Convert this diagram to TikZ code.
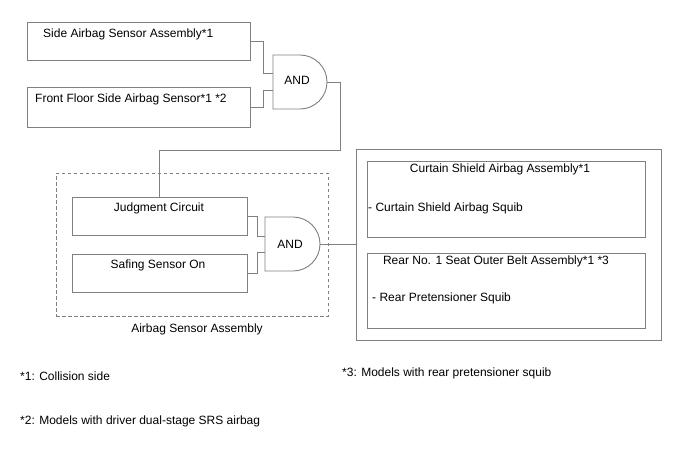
\documentclass[tikz,border=0pt]{standalone}
\usepackage{fontspec}
\setmainfont{Liberation Sans}
\definecolor{linegray}{RGB}{128,128,128}
\begin{document}
\begin{tikzpicture}[x=1pt,y=-1pt,
  ln/.style={draw=linegray, line width=0.9pt},
  box/.style={draw=linegray, line width=0.9pt, anchor=north west, inner sep=0pt, outer sep=0pt},
  txt/.style={font=\fontsize{12}{14}\selectfont, inner sep=0pt, text=black},
  dbox/.style={draw=linegray, line width=0.9pt, dash pattern=on 3.5pt off 2.5pt, anchor=north west, inner sep=0pt, outer sep=0pt}
]
\useasboundingbox (0,0) rectangle (688,463);
% top boxes
\node[box, minimum width=223pt, minimum height=38pt] (b1) at (27,22) {};
\node[box, minimum width=223pt, minimum height=40pt] (b2) at (27,87) {};
\node[txt, anchor=base west] (t1) at (43,37) {Side Airbag Sensor Assembly*1};
\node[txt, anchor=base west] (t2) at (35,102) {Front Floor Side Airbag Sensor*1 *2};
% gate 1
\draw[ln] (273,55) -- (300,55) arc[start angle=90, end angle=-90, radius=27pt] -- (273,109) -- cycle;
\node[txt, anchor=base] (g1) at (297,84) {AND};
\coordinate (g1in1) at (273,73);
\coordinate (g1in2) at (273,90);
\coordinate (g1out) at (327,82);
\coordinate (j1) at (263,0);
\draw[ln] (b1.east) -| (j1 |- g1in1) -- (g1in1);
\draw[ln] (b2.east) -| (j1 |- g1in2) -- (g1in2);
% airbag sensor assembly
\node[dbox, minimum width=272pt, minimum height=143pt] (asm) at (56,173) {};
\node[txt, anchor=base] (asml) at (197,332) {Airbag Sensor Assembly};
\node[box, minimum width=175pt, minimum height=38pt] (jc) at (72,197) {};
\node[box, minimum width=175pt, minimum height=38pt] (ss) at (72,254) {};
\node[txt, anchor=base] (jct) at (159,211) {Judgment Circuit};
\node[txt, anchor=base] (sst) at (158,268) {Safing Sensor On};
% gate 2
\draw[ln] (265,217) -- (293,217) arc[start angle=90, end angle=-90, radius=27pt] -- (265,271) -- cycle;
\node[txt, anchor=base] (g2) at (290,248) {AND};
\coordinate (g2in1) at (265,236);
\coordinate (g2in2) at (265,252);
\coordinate (g2out) at (320,244);
\coordinate (j2) at (257,0);
\draw[ln] (jc.east) -| (j2 |- g2in1) -- (g2in1);
\draw[ln] (ss.east) -| (j2 |- g2in2) -- (g2in2);
% gate1 output to judgment circuit
\coordinate (bend) at (340,150);
\draw[ln] (g1out) -| (bend) -| (jc.north);
% output boxes
\node[box, minimum width=305pt, minimum height=191pt] (out) at (356,149) {};
\node[box, minimum width=278pt, minimum height=76pt] (cs) at (367,161) {};
\node[box, minimum width=278pt, minimum height=75pt] (rb) at (367,253) {};
\node[txt, anchor=base] (cst) at (500,172) {Curtain Shield Airbag Assembly*1};
\node[txt, anchor=base west] (css) at (368,211) {- Curtain Shield Airbag Squib};
\node[txt, anchor=base] (rbt) at (496,264) {Rear No. 1 Seat Outer Belt Assembly*1 *3};
\node[txt, anchor=base west] (rbs) at (372,301) {- Rear Pretensioner Squib};
\draw[ln] (g2out) -- (out.west |- g2out);
% footnotes
\node[txt, anchor=base west] (f1) at (20,380) {*1: Collision side};
\node[txt, anchor=base west] (f2) at (20,424) {*2: Models with driver dual-stage SRS airbag};
\node[txt, anchor=base west] (f3) at (342,376) {*3: Models with rear pretensioner squib};
\end{tikzpicture}
\end{document}
